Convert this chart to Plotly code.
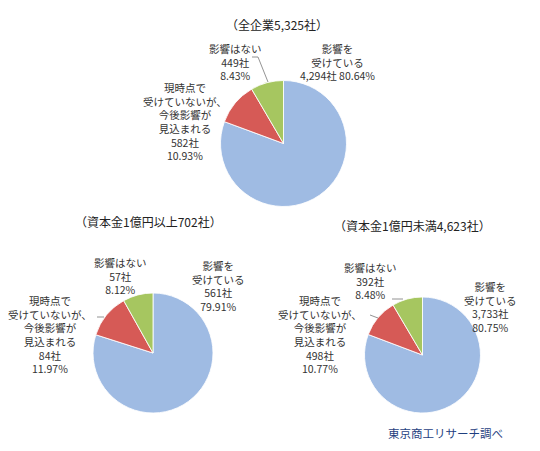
import plotly.graph_objects as go

# the page puts an 8px margin round the plot, so the figure is that much smaller
OFF = 8
W, H = 540 - OFF, 451 - OFF

# data -------------------------------------------------
groups = ["全企業5,325社", "資本金1億円以上702社", "資本金1億円未満4,623社"]
categories = ["影響を受けている", "現時点で受けていないが、今後影響が見込まれる", "影響はない"]
cat_lines = ["影響を<br>受けている",
             "現時点で<br>受けていないが、<br>今後影響が<br>見込まれる",
             "影響はない"]
counts_all = [4294, 582, 449]
pct_all = [80.64, 10.93, 8.43]
counts_large = [561, 84, 57]
pct_large = [79.91, 11.97, 8.12]
counts_small = [3733, 498, 392]
pct_small = [80.75, 10.77, 8.48]
source = "東京商工リサーチ調べ"

colors = ["#9FBBE3", "#D65A56", "#A6C660"]

# layout in pixels: pie centre/radius, title pos, label pos per slice
pies = [
    dict(counts=counts_all, pct=pct_all, cx=283.5, cy=143.5, r=63,
         title=(277, 25), labels=[(337, 62), (185, 122), (235, 62)]),
    dict(counts=counts_large, pct=pct_large, cx=153, cy=353, r=60,
         title=(148, 222), labels=[(218, 286), (50, 334), (120, 276)]),
    dict(counts=counts_small, pct=pct_small, cx=422.5, cy=355, r=58,
         title=(412, 225), labels=[(490, 307), (320, 334), (370, 281)]),
]


def px(x, y):
    return (x - OFF) / W, 1 - (y - OFF) / H


fig = go.Figure()
font = "Noto Sans CJK JP"
annotations = []
for k, p in enumerate(pies):
    x0, y1 = px(p["cx"] - p["r"], p["cy"] - p["r"])
    x1, y0 = px(p["cx"] + p["r"], p["cy"] + p["r"])
    fig.add_trace(go.Pie(
        labels=categories, values=p["counts"], sort=False,
        direction="clockwise", rotation=0,
        marker=dict(colors=colors, line=dict(color="rgba(255,255,255,0.85)", width=1)),
        textinfo="none", hoverinfo="label+value+percent",
        domain=dict(x=[x0, x1], y=[y0, y1]),
        showlegend=False,
    ))
    tx, ty = px(*p["title"])
    annotations.append(dict(x=tx, y=ty, xref="paper", yref="paper",
                            xanchor="center", yanchor="middle",
                            text="（" + groups[k] + "）", showarrow=False,
                            font=dict(family=font, size=12, color="#222")))
    for i, (lx, ly) in enumerate(p["labels"]):
        cnt = "{:,}社".format(p["counts"][i])
        pc = "{:.2f}%".format(p["pct"][i])
        if k == 0 and i == 0:
            txt = cat_lines[i] + "<br>" + cnt + " " + pc
        else:
            txt = cat_lines[i] + "<br>" + cnt + "<br>" + pc
        ax, ay = px(lx, ly)
        annotations.append(dict(x=ax, y=ay, xref="paper", yref="paper",
                                xanchor="center", yanchor="middle",
                                text=txt, showarrow=False, align="center",
                                font=dict(family=font, size=10.5, color="#333")))

sx, sy = px(445, 433)
annotations.append(dict(x=sx, y=sy, xref="paper", yref="paper", text=source,
                        xanchor="center", yanchor="middle",
                        showarrow=False,
                        font=dict(family=font, size=11.5, color="#1F3F7F")))

# leader lines
leaders = [
    [(252, 57), (258, 57), (268, 82)],
    [(97, 317), (104, 317)],
    [(392, 299), (403, 299)],
    [(370, 315), (378, 318)],
]
shapes = []
for pts in leaders:
    for a, b in zip(pts[:-1], pts[1:]):
        xa, ya = px(*a)
        xb, yb = px(*b)
        shapes.append(dict(type="line", xref="paper", yref="paper",
                           x0=xa, y0=ya, x1=xb, y1=yb,
                           line=dict(color="#777", width=0.8)))

fig.update_layout(
    width=W, height=H,
    margin=dict(l=0, r=0, t=0, b=0),
    paper_bgcolor="white", plot_bgcolor="white",
    annotations=annotations, shapes=shapes,
)
fig.write_html("out.html")
